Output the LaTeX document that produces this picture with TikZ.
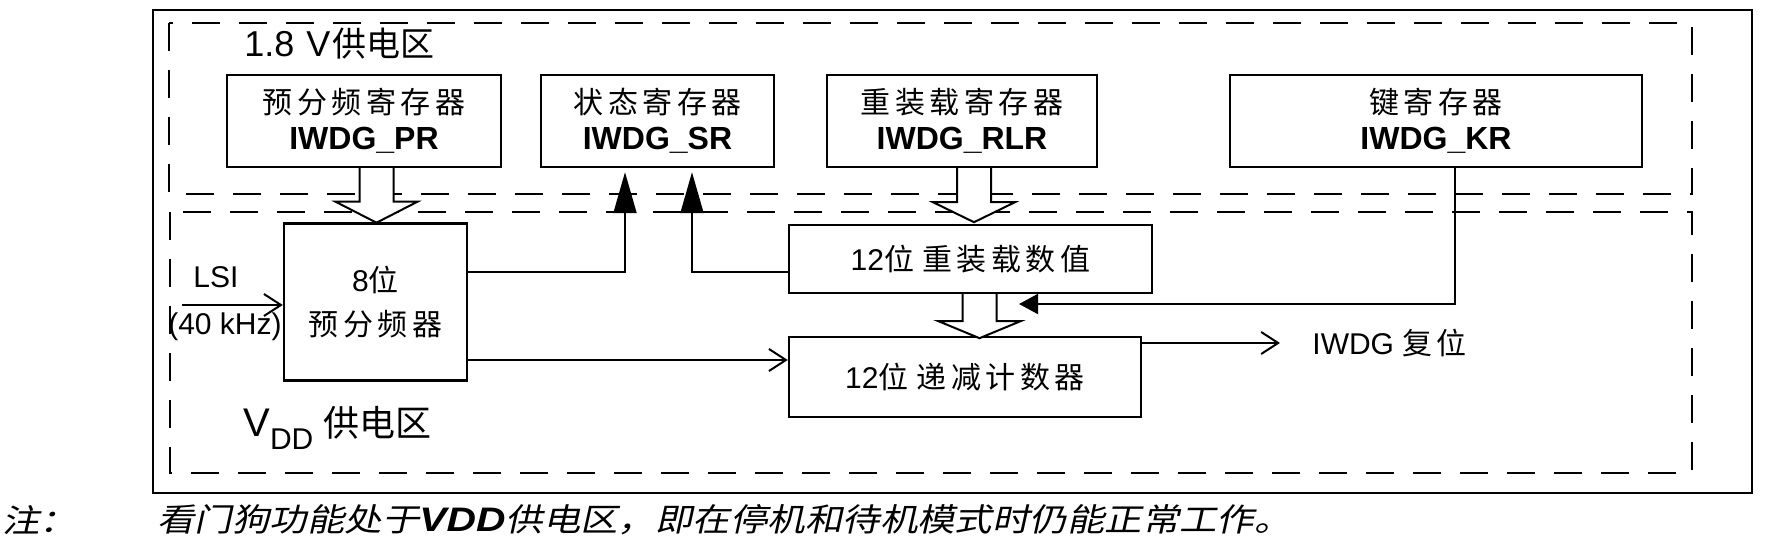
\documentclass[tikz,border=0pt]{standalone}
\usepackage{fontspec}
\setmainfont{Liberation Sans}
\newfontfamily\cjk{Noto Sans CJK SC}
\newfontfamily\cjkw[LetterSpace=15]{Noto Sans CJK SC}
\newfontfamily\cjkit[FakeSlant=0.22,FakeStretch=1.17]{Noto Sans CJK SC}
\newfontfamily\vddfont[FakeStretch=1.2]{Liberation Sans}
\usetikzlibrary{arrows.meta,calc}
\newcommand\hollowarr[3]{\draw[hollow] (#1) ++(-17,0) -- ++(0,#2) -- ++(-24,0) -- ++(41,#3) -- ++(41,-#3) -- ++(-24,0) -- ++(0,-#2);}
\begin{document}
\begin{tikzpicture}[x=0.5pt,y=-0.5pt,
  box/.style={draw,line width=1.2pt,inner sep=0pt,align=center},
  zone/.style={line width=1.4pt,dash pattern=on 14pt off 9.5pt},
  wire/.style={line width=1pt},
  farrow/.style={wire,-{Triangle[length=20.5pt,width=11.5pt]},shorten >=2pt},
  karrow/.style={wire,-{Triangle[length=9.5pt,width=10pt]}},
  oarrow/.style={wire,-{Straight Barb[length=8.5pt,width=11pt]}},
  hollow/.style={line width=1pt,fill=white},
  lbl/.style={inner sep=0pt,font=\fontsize{15}{15}\selectfont},
]
\useasboundingbox (0,0) rectangle (1768,540);
% frames
\draw[line width=1.3pt] (153,10) rectangle (1752,493);
\draw[zone] (169,23) rectangle (1692,194);
\draw[zone] (170,212) rectangle (1692,473);
% zone titles
\node[lbl,anchor=west] (t18) at (244,44) {\fontsize{18}{18}\selectfont 1.8\hspace{6pt}V\hspace{1pt}{\cjk\fontsize{17}{17}\selectfont 供电区}};
\node[lbl,anchor=west] (tvdd) at (243,428) {\fontsize{20}{20}\selectfont V\raisebox{-6.5pt}{\fontsize{15}{15}\selectfont DD}\hspace{5pt}{\cjk\fontsize{18}{18}\selectfont 供电区}};
% registers
\node[box,minimum width=137pt,minimum height=46pt,font=\fontsize{15}{18}\selectfont] (pr) at (364,121) {{\cjkw 预分频寄存器}\\{\bfseries\fontsize{16}{18}\selectfont IWDG\_PR}};
\node[box,minimum width=116.5pt,minimum height=46pt,font=\fontsize{15}{18}\selectfont] (sr) at (657.5,121) {{\cjkw 状态寄存器}\\{\bfseries\fontsize{16}{18}\selectfont IWDG\_SR}};
\node[box,minimum width=135pt,minimum height=46pt,font=\fontsize{15}{18}\selectfont] (rlr) at (962,121) {{\cjkw 重装载寄存器}\\{\bfseries\fontsize{16}{18}\selectfont IWDG\_RLR}};
\node[box,minimum width=206pt,minimum height=46pt,font=\fontsize{15}{18}\selectfont] (kr) at (1436,121) {{\cjkw 键寄存器}\\{\bfseries\fontsize{16}{18}\selectfont IWDG\_KR}};
% logic blocks
\node[box,minimum width=91.5pt,minimum height=78.5pt,font=\fontsize{15}{22}\selectfont] (psc) at (375.5,302) {8{\cjkw 位}\\{\cjkw 预分频器}};
\node[box,minimum width=181.5pt,minimum height=34pt,font=\fontsize{15}{15}\selectfont] (rv) at (970.5,259) {12{\cjkw 位} {\cjkw 重装载数值}};
\node[box,minimum width=176pt,minimum height=40pt,font=\fontsize{15}{15}\selectfont] (cnt) at (965,377) {12{\cjkw 位} {\cjkw 递减计数器}};
% labels
\node[lbl] (lsi) at (216,277) {LSI};
\node[lbl] (khz) at (225,327) {(40 kHz)};
\node[lbl,anchor=west] (reset) at (1312,343) {IWDG {\cjkw 复位}};
% hollow bus arrows
\coordinate (h1) at (376.5,0);
\coordinate (h2) at (974,0);
\coordinate (h3) at (979.5,0);
\hollowarr{pr.south -| h1}{33.5}{21}
\hollowarr{rlr.south -| h2}{34}{20}
\hollowarr{rv.south -| h3}{27}{17}
% connectors
\coordinate (r1) at (0,272);
\coordinate (c1) at (625,0);
\coordinate (c2) at (692,0);
\draw[farrow] (psc.east |- r1) -| (sr.south -| c1);
\draw[farrow] (rv.west |- r1) -| (sr.south -| c2);
\coordinate (c3) at (1455,0);
\coordinate (ktip) at (1019,304);
\draw[karrow] (kr.south -| c3) |- (ktip);
\coordinate (r3) at (0,360);
\draw[oarrow] (psc.east |- r3) -- (cnt.west |- r3);
\draw[oarrow,shorten >=16pt] (cnt.east |- reset.west) -- (reset.west);
\coordinate (lsin) at (182,305);
\draw[oarrow] (lsin) -- (lsin -| psc.west);
% note
\node[inner sep=0pt,anchor=west] (zhu) at (2,520) {\cjkit\fontsize{16}{16}\selectfont 注：};
\node[inner sep=0pt,anchor=west] (note) at (157,520) {\cjkit\fontsize{16}{16}\selectfont 看门狗功能处于{\vddfont\bfseries\itshape\fontsize{17}{17}\selectfont VDD}供电区，即在停机和待机模式时仍能正常工作。};
\end{tikzpicture}
\end{document}
